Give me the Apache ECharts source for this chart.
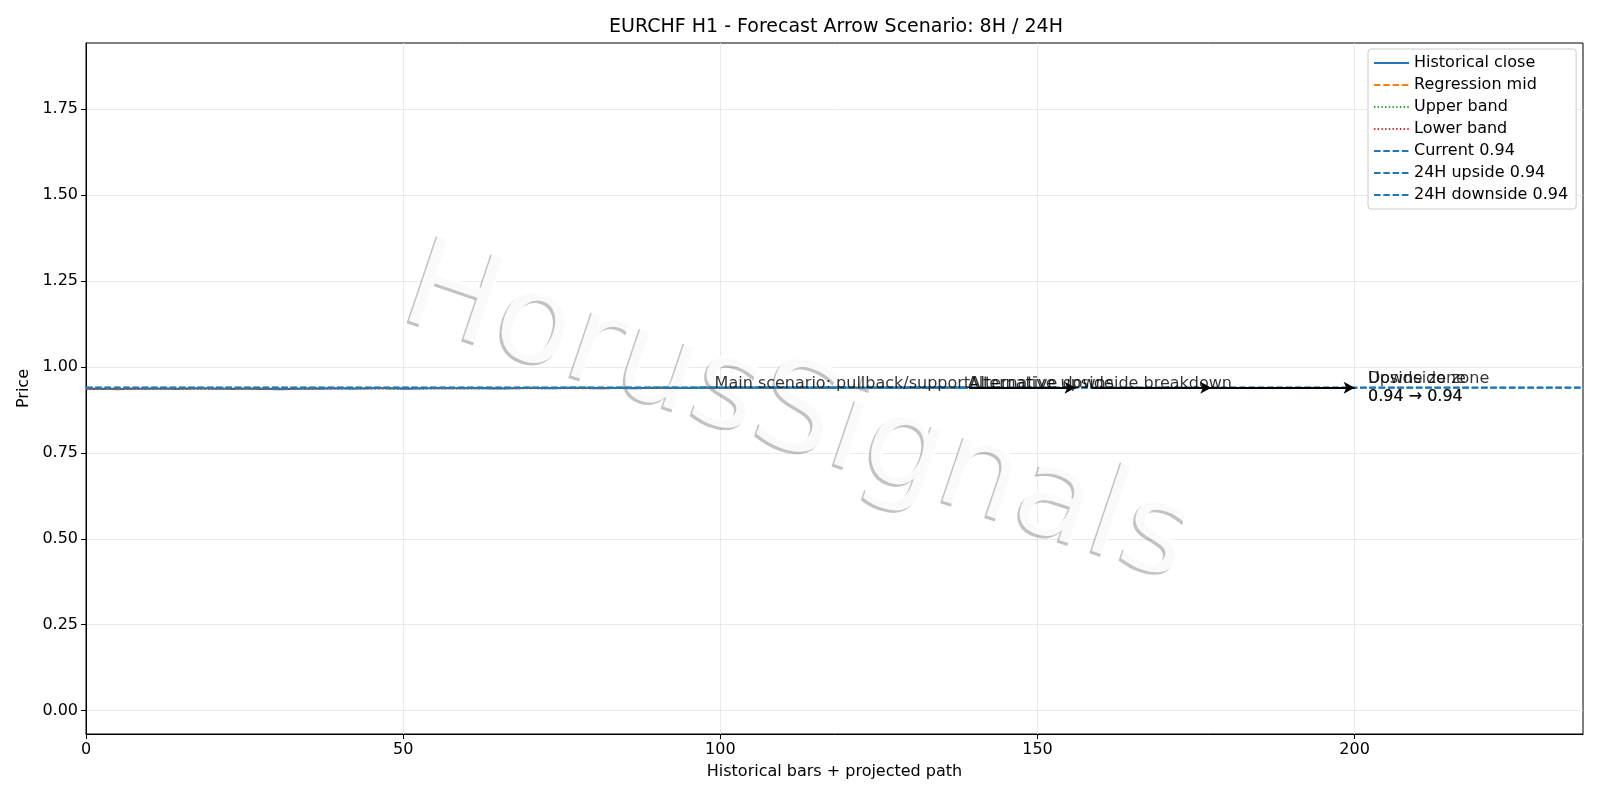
<!DOCTYPE html>
<html>
<head>
<meta charset="utf-8">
<title>EURCHF H1 forecast</title>
<script src="https://cdn.jsdelivr.net/npm/echarts@6.0.0/dist/echarts.min.js"></script>
<style>
  html, body { margin: 0; padding: 0; background: #fff; }
  #chart { width: 1600px; height: 800px; }
</style>
</head>
<body>
<div id="chart"></div>
<script>
// hourly closes, bar index 0..139
var closes = [
    0.9362, 0.9365, 0.9368, 0.9364, 0.9360, 0.9358, 0.9361, 0.9366, 0.9370, 0.9368,
    0.9371, 0.9375, 0.9373, 0.9369, 0.9366, 0.9368, 0.9372, 0.9376, 0.9379, 0.9377,
    0.9374, 0.9370, 0.9367, 0.9365, 0.9368, 0.9371, 0.9369, 0.9366, 0.9363, 0.9360,
    0.9357, 0.9359, 0.9362, 0.9366, 0.9369, 0.9373, 0.9376, 0.9374, 0.9378, 0.9381,
    0.9379, 0.9376, 0.9373, 0.9375, 0.9378, 0.9382, 0.9385, 0.9383, 0.9380, 0.9377,
    0.9374, 0.9372, 0.9375, 0.9379, 0.9383, 0.9386, 0.9388, 0.9385, 0.9382, 0.9384,
    0.9387, 0.9390, 0.9388, 0.9385, 0.9381, 0.9378, 0.9380, 0.9383, 0.9386, 0.9389,
    0.9392, 0.9390, 0.9387, 0.9384, 0.9386, 0.9389, 0.9393, 0.9396, 0.9394, 0.9391,
    0.9388, 0.9385, 0.9387, 0.9390, 0.9393, 0.9391, 0.9388, 0.9386, 0.9389, 0.9392,
    0.9395, 0.9398, 0.9396, 0.9393, 0.9390, 0.9392, 0.9395, 0.9399, 0.9402, 0.9400,
    0.9397, 0.9394, 0.9396, 0.9399, 0.9402, 0.9404, 0.9401, 0.9398, 0.9395, 0.9397,
    0.9400, 0.9403, 0.9405, 0.9402, 0.9399, 0.9396, 0.9398, 0.9401, 0.9404, 0.9406,
    0.9403, 0.9400, 0.9397, 0.9399, 0.9402, 0.9405, 0.9403, 0.9400, 0.9398, 0.9401,
    0.9404, 0.9402, 0.9399, 0.9397, 0.9400, 0.9403, 0.9401, 0.9398, 0.9400, 0.9400
];

// regression channel end points [x, y]
var regMid = [[0, 0.9366], [139, 0.9404]];
var regUpper = [[0, 0.9384], [139, 0.9422]];
var regLower = [[0, 0.9348], [139, 0.9386]];

var currentPrice = 0.94;
var upside24 = 0.94;
var downside24 = 0.94;

// projected arrows (from, to) on the x axis
var arrowFrom = [139.2, 158.5, 177.2];
var arrowTo = [156.0, 177.4, 200.0];

// annotations [x, y, text, kind]
var notes = [
    [99.1, 0.94, 'Main scenario: pullback/support', 'base'],
    [139.0, 0.94, 'Alternative upside', 'base'],
    [139.3, 0.94, 'Alternative downside breakdown', 'base'],
    [202.1, 0.94, 'Upside zone\n0.94 \u2192 0.94', 'mid'],
    [202.1, 0.94, 'Downside zone\n0.94 \u2192 0.94', 'mid']
];

var xTicks = [0, 50, 100, 150, 200];
var yTicks = [0, 0.25, 0.5, 0.75, 1.0, 1.25, 1.5, 1.75];
var xMax = 236;
var yMin = -0.068, yMax = 1.943;

var FONT = 'DejaVu Sans';
var FS = 16;
var dashed = [6.5, 2.8];
var dotted = [1.4, 2.3];

var chart = echarts.init(document.getElementById('chart'));

function hline(name, value) {
    return {
        name: name,
        type: 'line',
        symbol: 'none',
        z: 4,
        data: [[0, value], [xMax, value]],
        itemStyle: { color: '#1f77b4' },
        lineStyle: { color: '#1f77b4', width: 1.6, type: dashed }
    };
}

function watermark(dx, dy, fill) {
    return {
        type: 'text',
        x: 797 + dx, y: 417 + dy,
        rotation: -0.325,
        z: 1,
        silent: true,
        style: {
            text: 'HorusSignals',
            font: '126px "DejaVu Sans"',
            fill: fill,
            align: 'center',
            verticalAlign: 'middle'
        }
    };
}

var arrowLines = arrowFrom.map(function (x0, i) {
    return [{ coord: [x0, currentPrice] }, { coord: [arrowTo[i], currentPrice] }];
});

chart.setOption({
    animation: false,
    textStyle: { fontFamily: FONT },
    graphic: [
        {
            type: 'text',
            x: 836, y: 27,
            z: 10,
            style: {
                text: 'EURCHF H1 - Forecast Arrow Scenario: 8H / 24H',
                font: '19px "DejaVu Sans"',
                fill: '#000',
                align: 'center',
                verticalAlign: 'middle'
            }
        },
        // watermark: grey shadow then white face
        watermark(-2.5, 2.5, 'rgba(0,0,0,0.24)'),
        watermark(0, 0, 'rgba(255,255,255,0.92)')
    ],
    grid: {
        left: 86, right: 17, top: 43, bottom: 66,
        show: true,
        borderColor: '#000',
        borderWidth: 1
    },
    legend: {
        orient: 'vertical',
        left: 1368,
        top: 49,
        padding: [6, 8, 6, 5],
        itemWidth: 35,
        itemHeight: 16,
        itemGap: 6,
        itemStyle: { opacity: 0 },
        backgroundColor: 'rgba(255,255,255,0.85)',
        borderColor: '#cccccc',
        borderWidth: 1,
        borderRadius: 3,
        textStyle: { fontFamily: FONT, fontSize: FS, color: '#000' },
        data: ['Historical close', 'Regression mid', 'Upper band', 'Lower band',
               'Current 0.94', '24H upside 0.94', '24H downside 0.94']
    },
    xAxis: {
        type: 'value',
        min: 0,
        max: xMax,
        name: 'Historical bars + projected path',
        nameLocation: 'middle',
        nameGap: 30,
        nameTextStyle: { fontFamily: FONT, fontSize: FS, color: '#000' },
        axisLine: { show: true, onZero: false, lineStyle: { color: '#000', width: 1 } },
        axisTick: { show: true, length: 5, customValues: xTicks, lineStyle: { color: '#000' } },
        axisLabel: { customValues: xTicks, margin: 8, color: '#000', fontFamily: FONT, fontSize: FS },
        splitLine: { show: true, lineStyle: { color: '#e4e4e4', width: 0.8 } }
    },
    yAxis: {
        type: 'value',
        min: yMin,
        max: yMax,
        name: 'Price',
        nameLocation: 'middle',
        nameGap: 51,
        nameTextStyle: { fontFamily: FONT, fontSize: FS, color: '#000' },
        axisLine: { show: true, onZero: false, lineStyle: { color: '#000', width: 1 } },
        axisTick: { show: true, length: 5, customValues: yTicks, lineStyle: { color: '#000' } },
        axisLabel: {
            customValues: yTicks, margin: 8, color: '#000', fontFamily: FONT, fontSize: FS,
            formatter: function (v) { return v.toFixed(2); }
        },
        splitLine: { show: true, lineStyle: { color: '#e4e4e4', width: 0.8 } }
    },
    series: [
        {
            name: 'Historical close',
            type: 'line',
            symbol: 'none',
            z: 2,
            data: closes.map(function (v, i) { return [i, v]; }),
            itemStyle: { color: '#1f77b4' },
            lineStyle: { color: '#1f77b4', width: 2.2 }
        },
        {
            name: 'Regression mid',
            type: 'line',
            symbol: 'none',
            z: 3,
            data: regMid,
            itemStyle: { color: '#ff7f0e' },
            lineStyle: { color: '#ff7f0e', width: 1.3, type: dashed }
        },
        {
            name: 'Upper band',
            type: 'line',
            symbol: 'none',
            z: 3,
            data: regUpper,
            itemStyle: { color: '#2ca02c' },
            lineStyle: { color: '#2ca02c', width: 1, type: dotted }
        },
        {
            name: 'Lower band',
            type: 'line',
            symbol: 'none',
            z: 3,
            data: regLower,
            itemStyle: { color: '#d62728' },
            lineStyle: { color: '#d62728', width: 1, type: dotted }
        },
        hline('Current 0.94', currentPrice),
        hline('24H upside 0.94', upside24),
        hline('24H downside 0.94', downside24),
        {
            // projected path arrows
            type: 'line',
            data: [],
            z: 6,
            markLine: {
                silent: true,
                symbol: ['none', 'arrow'],
                symbolSize: [9, 11],
                label: { show: false },
                lineStyle: { color: '#000', width: 2.2, type: 'solid' },
                emphasis: { disabled: true },
                data: arrowLines
            }
        },
        {
            type: 'scatter',
            z: 7,
            symbolSize: 0,
            silent: true,
            itemStyle: { color: '#000' },
            data: notes.map(function (n) {
                return {
                    value: [n[0], n[1]],
                    label: n[3] === 'mid'
                        ? { verticalAlign: 'middle', offset: [0, 0], lineHeight: 17.5 }
                        : { verticalAlign: 'bottom', offset: [0, 4] },
                    text: n[2]
                };
            }),
            label: {
                show: true,
                position: [0, 0],
                align: 'left',
                color: '#000',
                textBorderWidth: 0,
                fontFamily: FONT,
                fontSize: FS,
                formatter: function (p) { return p.data.text; }
            }
        }
    ]
});
</script>
</body>
</html>
